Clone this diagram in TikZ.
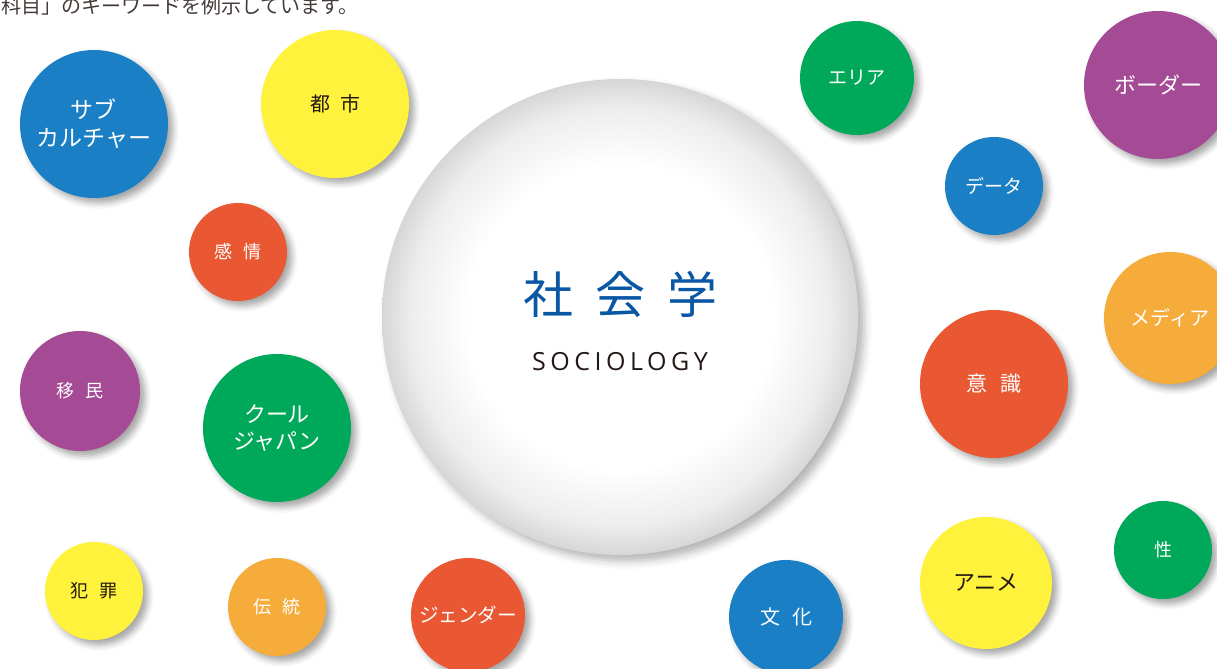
\documentclass[tikz,border=0pt]{standalone}
\usepackage{fontspec}
\setmainfont{Noto Sans CJK JP}
\newfontfamily\latinfont[LetterSpace=18]{Open Sans}
\usetikzlibrary{shadows.blur}

\definecolor{kwblue}{HTML}{1A7FC4}
\definecolor{kwyellow}{HTML}{FFF23C}
\definecolor{kwred}{HTML}{E95733}
\definecolor{kwpurple}{HTML}{A54A95}
\definecolor{kwgreen}{HTML}{00A85A}
\definecolor{kworange}{HTML}{F5AC3B}
\definecolor{titleblue}{HTML}{0A58A5}
\definecolor{inkdark}{HTML}{231815}

\pgfdeclareradialshading{rim}{\pgfpoint{0bp}{0bp}}{%
  color(0bp)=(white); color(16bp)=(white); color(22bp)=(black!7);
  color(25bp)=(black!16); color(50bp)=(black!16)}

\begin{document}
\begin{tikzpicture}[
  x=0.5pt, y=-0.5pt,
  bubble/.style={circle, inner sep=0pt, align=center, text=white,
    blur shadow={shadow xshift=2.5pt, shadow yshift=-2.5pt,
      shadow blur radius=3pt, shadow opacity=35}},
  blue/.style={bubble, fill=kwblue},
  yellow/.style={bubble, fill=kwyellow, text=inkdark},
  red/.style={bubble, fill=kwred},
  purple/.style={bubble, fill=kwpurple},
  green/.style={bubble, fill=kwgreen},
  orange/.style={bubble, fill=kworange}
]
\useasboundingbox (0,0) rectangle (1217,669);
\clip (0,0) rectangle (1217,669);

% caption line, cut at the top
\node[anchor=base west, inner sep=0pt, text=inkdark!85, font=\fontsize{10pt}{12pt}\selectfont]
  (caption) at (1,13) {科目」のキーワードを例示しています。};

% central bubble
\node[circle, minimum size=238pt, inner sep=0pt, shading=rim, align=center,
  blur shadow={shadow xshift=3pt, shadow yshift=-3pt, shadow blur radius=4pt, shadow opacity=30}]
  (socio) at (620,317) {};
\node[text=titleblue, font=\fontsize{25pt}{28pt}\selectfont] (title) at (620,294)
  {社\hspace{11pt}会\hspace{11pt}学};
\node[text=inkdark, font=\latinfont\fontsize{12.5pt}{14pt}\selectfont] (subtitle) at (620,362) {SOCIOLOGY};

% left side
\node[blue, minimum size=74pt, font=\fontsize{11.5pt}{14pt}\selectfont] (sub) at (94,124) {サブ\\カルチャー};
\node[yellow, minimum size=74pt, font=\fontsize{10pt}{12pt}\selectfont] (toshi) at (335,104) {都\hspace{0.5em}市};
\node[red, minimum size=49pt, font=\fontsize{9pt}{11pt}\selectfont] (kanjo) at (238,252) {感\hspace{0.6em}情};
\node[purple, minimum size=60pt, font=\fontsize{9pt}{11pt}\selectfont] (imin) at (80,391) {移\hspace{0.6em}民};
\node[green, minimum size=74pt, font=\fontsize{11pt}{13.5pt}\selectfont] (cool) at (277,428) {クール\\ジャパン};
\node[yellow, minimum size=49pt, font=\fontsize{9pt}{11pt}\selectfont] (hanzai) at (94,591) {犯\hspace{0.6em}罪};
\node[orange, minimum size=49pt, font=\fontsize{9pt}{11pt}\selectfont] (dento) at (277,607) {伝\hspace{0.6em}統};
\node[red, minimum size=57pt, font=\fontsize{9.8pt}{12pt}\selectfont] (gender) at (468,615) {ジェンダー};

% right side
\node[green, minimum size=57pt, font=\fontsize{9.5pt}{12pt}\selectfont] (area) at (857,78) {エリア};
\node[purple, minimum size=74pt, font=\fontsize{11pt}{13pt}\selectfont] (border) at (1158,85) {ボーダー};
\node[blue, minimum size=49pt, font=\fontsize{9.5pt}{12pt}\selectfont] (data) at (994,186) {データ};
\node[orange, minimum size=66pt, font=\fontsize{10pt}{12pt}\selectfont] (media) at (1170,318) {メディア};
\node[red, minimum size=74pt, font=\fontsize{10.5pt}{12pt}\selectfont] (ishiki) at (994,384) {意\hspace{0.6em}識};
\node[green, minimum size=49pt, font=\fontsize{9pt}{11pt}\selectfont] (sei) at (1163,550) {性};
\node[yellow, minimum size=66pt, font=\fontsize{11pt}{13pt}\selectfont] (anime) at (986,583) {アニメ};
\node[blue, minimum size=57pt, font=\fontsize{10pt}{12pt}\selectfont] (bunka) at (786,617) {文\hspace{0.6em}化};

\end{tikzpicture}
\end{document}
